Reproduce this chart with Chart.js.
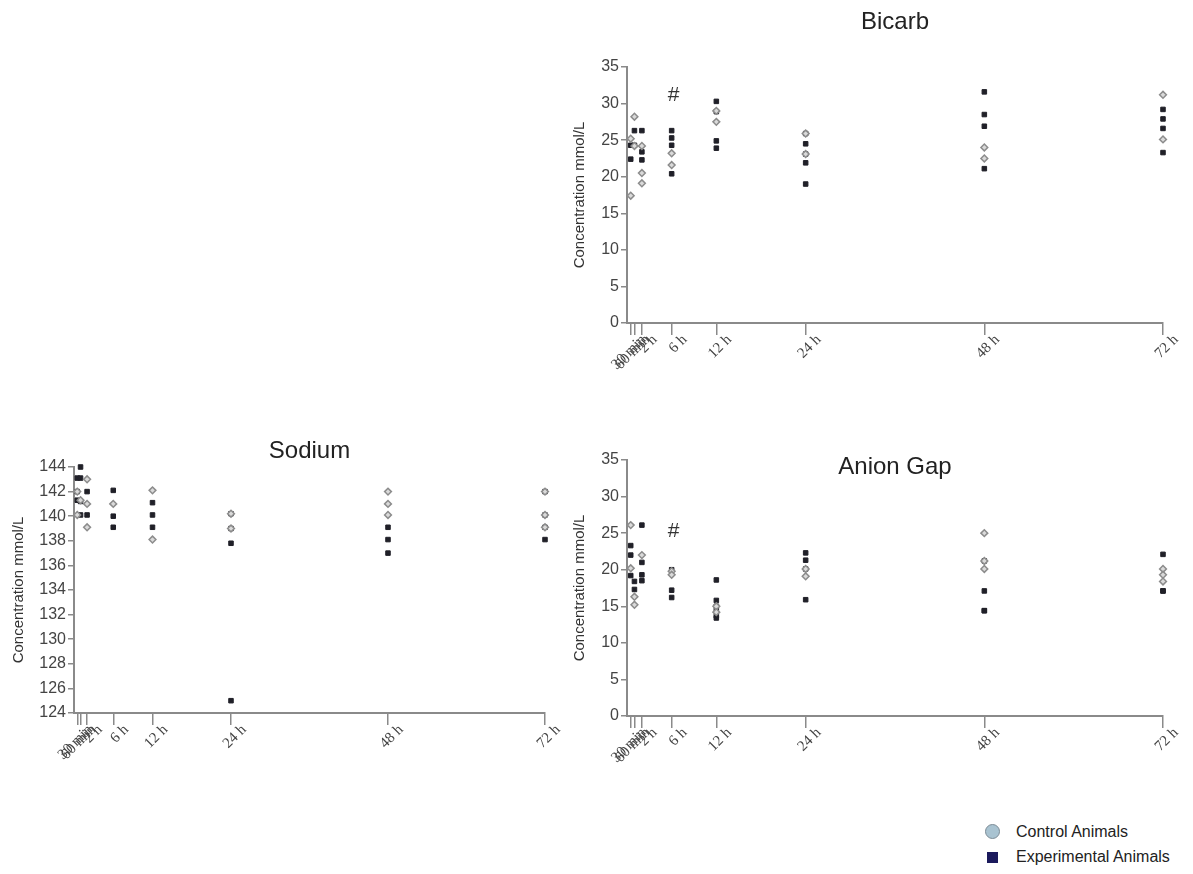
<!DOCTYPE html>
<html lang="en">
<head>
<meta charset="UTF-8">
<title>Bicarb, Sodium, Anion Gap</title>
<style>
    body { margin: 0; background: #fff; }
    .wrap { position: relative; width: 1193px; height: 874px; }
    canvas { position: absolute; }
    #bicarb { left: 560px; top: 0; }
    #sodium { left: 0; top: 420px; }
    #anion { left: 560px; top: 420px; }
    .legend { position: absolute; left: 984px; top: 821px; font-family: "Liberation Sans", Arial, sans-serif; font-size: 16px; color: #222; }
    .legend div { position: relative; height: 25px; line-height: 22px; padding-left: 32px; }
    .legend .dot { position: absolute; left: 1px; top: 3px; width: 15px; height: 15px; border-radius: 50%; background: #a9c3d1; border: 1.5px solid #7d8c96; box-sizing: border-box; }
    .legend .sq { position: absolute; left: 3px; top: 6px; width: 11px; height: 11px; background: #1b1a5c; }
</style>
<script src="https://cdn.jsdelivr.net/npm/chart.js"></script>
</head>
<body>
<div class="wrap">
    <canvas id="bicarb" width="633" height="400"></canvas>
    <canvas id="sodium" width="580" height="360"></canvas>
    <canvas id="anion" width="633" height="380"></canvas>
    <div class="legend">
        <div><span class="dot"></span>Control Animals</div>
        <div><span class="sq"></span>Experimental Animals</div>
    </div>
</div>
<script>
    // sampling times (hours) and their labels
    const times = [0.5, 1, 2, 6, 12, 24, 48, 72];
    const timeLabels = ['30 min', '60 min', '2 h', '6 h', '12 h', '24 h', '48 h', '72 h'];

    // one list of animal values per sampling time
    const bicarbControl = [[25.2, 17.4], [28.2, 24.2], [24.2, 20.5, 19.1], [23.2, 21.6], [29.0, 27.5], [25.9, 23.1], [24.0, 22.5], [31.2, 25.1]];
    const bicarbExp = [[24.3, 22.4], [26.3, 24.3], [26.3, 23.4, 22.3], [26.3, 25.3, 24.3, 20.4], [30.3, 28.9, 24.9, 23.9], [25.9, 24.5, 23.1, 21.9, 19.0], [31.6, 28.5, 26.9, 21.1], [29.2, 27.9, 26.6, 23.3]];

    const sodiumControl = [[142.0, 140.1], [141.3], [143.0, 141.0, 139.1], [141.0], [142.1, 138.1], [140.2, 139.0], [142.0, 141.0, 140.1], [142.0, 140.1, 139.1]];
    const sodiumExp = [[143.1, 142.0, 141.3], [144.0, 143.1, 141.2, 140.1], [142.0, 140.1], [142.1, 140.0, 139.1], [141.1, 140.1, 139.1], [140.2, 139.0, 137.8, 125.0], [139.1, 138.1, 137.0], [142.0, 140.1, 139.1, 138.1]];

    const anionControl = [[26.1, 20.2], [16.3, 15.2], [22.0], [19.8, 19.3], [15.0, 14.2], [20.1, 19.1], [25.0, 21.2, 20.1], [20.1, 19.3, 18.4]];
    const anionExp = [[23.3, 22.0, 19.2], [18.4, 17.3], [26.1, 21.0, 19.3, 18.5], [20.0, 17.2, 16.2], [18.6, 15.8, 15.0, 14.4, 13.7, 13.4], [22.3, 21.3, 20.1, 15.9], [21.2, 17.1, 14.4, 14.4], [22.1, 17.1, 17.1]];

    // "#" significance marks (value on y axis at 6 h)
    const bicarbHash = 31.1;
    const anionHash = 25.3;

    const axisGrey = '#8a8a8a';

    function points(lists) {
        return lists.flatMap((list, i) => list.map(v => ({ x: times[i], y: v })));
    }

    const panelText = {
        id: 'panelText',
        afterDraw(chart, args, o) {
            const { ctx, chartArea, scales } = chart;
            ctx.save();
            ctx.textAlign = 'center';
            ctx.textBaseline = 'middle';
            ctx.fillStyle = '#222';
            ctx.font = '24px "Liberation Sans"';
            ctx.fillText(o.title, (chartArea.left + chartArea.right) / 2, o.titleY);
            if (o.hash != null) {
                ctx.fillStyle = '#333';
                ctx.font = '21px "Liberation Sans"';
                ctx.fillText('#', scales.x.getPixelForValue(6) + 2, scales.y.getPixelForValue(o.hash));
            }
            ctx.restore();
        }
    };

    function makePanel(id, p) {
        return new Chart(document.getElementById(id), {
            type: 'scatter',
            data: {
                datasets: [
                    {
                        label: 'Control Animals',
                        data: points(p.control),
                        pointStyle: 'rectRot',
                        radius: 3.4,
                        backgroundColor: '#dadada',
                        borderColor: '#8c8c8c',
                        borderWidth: 1.5,
                        clip: false
                    },
                    {
                        label: 'Experimental Animals',
                        data: points(p.exp),
                        pointStyle: 'rect',
                        radius: 3.2,
                        backgroundColor: '#202028',
                        borderColor: '#202028',
                        borderWidth: 1,
                        clip: false
                    }
                ]
            },
            options: {
                responsive: false,
                animation: false,
                layout: { padding: { left: 0, right: p.right, top: p.top, bottom: 0 } },
                scales: {
                    x: {
                        type: 'linear',
                        min: 0,
                        max: 72,
                        afterBuildTicks: s => { s.ticks = times.map(v => ({ value: v })); },
                        afterFit: s => { s.height = p.xHeight; },
                        border: { display: true, color: axisGrey, width: 2 },
                        grid: { drawOnChartArea: false, drawTicks: true, tickLength: 12, color: axisGrey, lineWidth: 1.5 },
                        ticks: {
                            autoSkip: false,
                            minRotation: 45,
                            maxRotation: 45,
                            padding: -4,
                            labelOffset: 13,
                            color: '#444',
                            font: { family: 'Liberation Serif', size: 15 },
                            callback: (value, index) => timeLabels[index]
                        }
                    },
                    y: {
                        min: p.yMin,
                        max: p.yMax,
                        afterFit: s => { s.width = p.yWidth; },
                        border: { display: true, color: axisGrey, width: 2 },
                        grid: { drawOnChartArea: false, drawTicks: true, tickLength: 6, color: axisGrey, lineWidth: 1.5 },
                        ticks: {
                            stepSize: p.step,
                            padding: 2,
                            color: '#444',
                            font: { family: 'Liberation Sans', size: 16 }
                        },
                        title: {
                            display: true,
                            text: 'Concentration mmol/L',
                            color: '#333',
                            font: { family: 'Liberation Sans', size: 15 },
                            padding: { top: p.titlePad, bottom: 0 }
                        }
                    }
                },
                plugins: {
                    legend: { display: false },
                    tooltip: { enabled: false },
                    panelText: { title: p.title, titleY: p.titleY, hash: p.hash }
                }
            },
            plugins: [panelText]
        });
    }

    makePanel('bicarb', {
        title: 'Bicarb', titleY: 22, hash: bicarbHash,
        control: bicarbControl, exp: bicarbExp,
        yMin: 0, yMax: 35, step: 5,
        top: 67, right: 30, yWidth: 67, xHeight: 77, titlePad: 11
    });

    makePanel('sodium', {
        title: 'Sodium', titleY: 31, hash: null,
        control: sodiumControl, exp: sodiumExp,
        yMin: 124, yMax: 144, step: 2,
        top: 47, right: 35, yWidth: 74, xHeight: 67, titlePad: 10
    });

    makePanel('anion', {
        title: 'Anion Gap', titleY: 47, hash: anionHash,
        control: anionControl, exp: anionExp,
        yMin: 0, yMax: 35, step: 5,
        top: 40, right: 30, yWidth: 67, xHeight: 84, titlePad: 11
    });
</script>
</body>
</html>
